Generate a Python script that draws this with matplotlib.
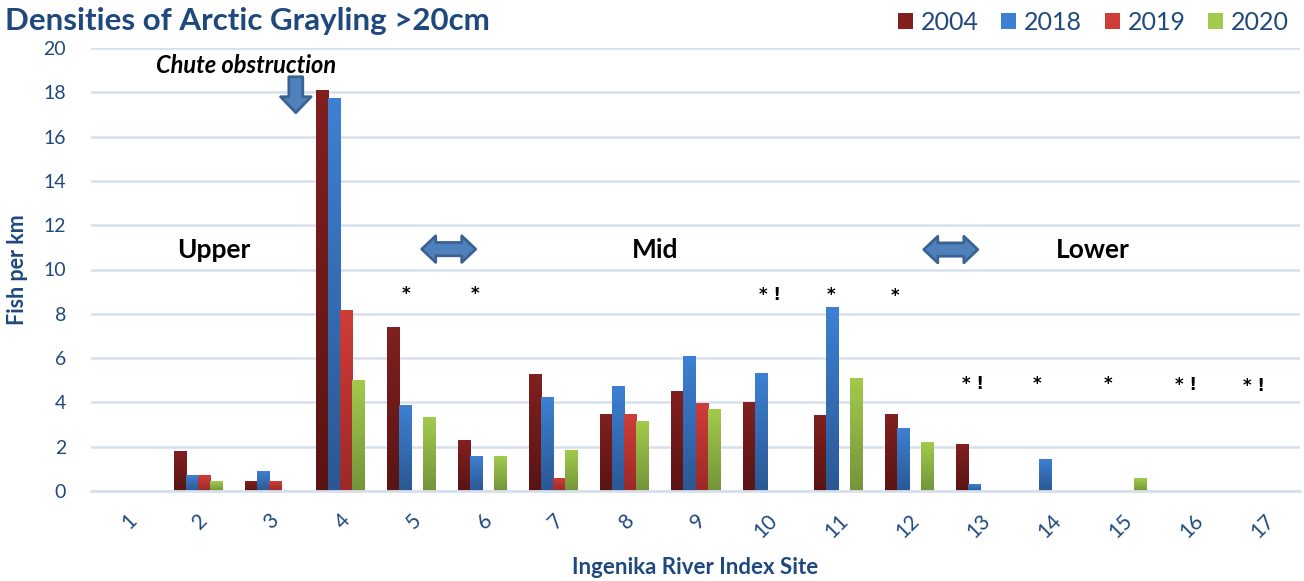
import matplotlib
matplotlib.use("Agg")
import matplotlib.pyplot as plt
import numpy as np
from matplotlib.patches import Polygon, Patch
from matplotlib.colors import LinearSegmentedColormap

plt.rcParams['font.family'] = ['Lato', 'DejaVu Sans']

# fish density per site (fish per km), 0 = not sampled / none caught
sites = [str(i) for i in range(1, 18)]
years = ['2004', '2018', '2019', '2020']
d2004 = [0, 1.8, 0.45, 18.1, 7.4, 2.3, 5.25, 3.45, 4.5, 4.0, 3.4, 3.45, 2.1, 0, 0, 0, 0]
d2018 = [0, 0.7, 0.9, 17.7, 3.85, 1.55, 4.2, 4.7, 6.05, 5.3, 8.3, 2.8, 0.3, 1.4, 0, 0, 0]
d2019 = [0, 0.7, 0.45, 8.15, 0, 0, 0.55, 3.45, 3.95, 0, 0, 0, 0, 0, 0, 0, 0]
d2020 = [0, 0.45, 0, 5.0, 3.3, 1.55, 1.85, 3.15, 3.7, 0, 5.1, 2.2, 0, 0, 0.55, 0, 0]

# site notes drawn above the bars
note_x = [4.93, 5.9, 10.05, 10.9, 11.8, 12.9, 13.8, 14.8, 15.9, 16.85]
note_text = ['*', '*', '* !', '*', '*', '* !', '*', '*', '* !', '* !']
note_y = [8.9, 8.9, 8.85, 8.85, 8.8, 4.85, 4.85, 4.85, 4.8, 4.75]

# reach labels
reaches = ['Upper', 'Mid', 'Lower']
reach_x = [2.22, 8.43, 14.58]
reach_y = 10.9

navy = '#1F497D'
grid_col = '#D6E0ED'
# (top, bottom) gradient colours per year
shades = {
    '2004': ('#80201F', '#5A1414'),
    '2018': ('#3D80D2', '#2B5894'),
    '2019': ('#CF3D39', '#9C2927'),
    '2020': ('#A2CA4C', '#74943A'),
}

fig = plt.figure(figsize=(13.04, 5.81), dpi=100)
ax = fig.add_axes([91 / 1304, 90 / 581, 1209 / 1304, 443 / 581])

x = np.arange(1, 18)
w = 0.169
series = [d2004, d2018, d2019, d2020]
for k, (yr, vals) in enumerate(zip(years, series)):
    top, bot = shades[yr]
    cmap = LinearSegmentedColormap.from_list(yr, [bot, top])
    bars = ax.bar(x + (k - 1.5) * w, vals, width=w, color=top, zorder=2)
    grad = np.linspace(0, 1, 64).reshape(-1, 1)
    for r in bars:
        h = r.get_height()
        if h <= 0:
            continue
        r.set_facecolor('none')
        x0 = r.get_x()
        ax.imshow(grad, extent=[x0, x0 + r.get_width(), 0, h], origin='lower',
                  cmap=cmap, aspect='auto', zorder=2, interpolation='bilinear')

ax.set_xlim(0.5, 17.5)
ax.set_ylim(0, 20)
ax.set_yticks(np.arange(0, 21, 2))
ax.set_xticks(x)
ax.set_xticklabels(sites, rotation=45, ha='right', va='top', rotation_mode='anchor')
ax.yaxis.grid(True, color=grid_col, linewidth=1.8, zorder=0)
ax.set_axisbelow(True)
for s in ['top', 'right', 'left']:
    ax.spines[s].set_visible(False)
ax.spines['bottom'].set_color(grid_col)
ax.spines['bottom'].set_linewidth(2)
ax.tick_params(axis='both', length=0, colors=navy, labelsize=14)
ax.tick_params(axis='x', labelsize=15, pad=14)
ax.tick_params(axis='y', pad=18)

ax.set_ylabel('Fish per km', fontsize=15.5, fontweight='bold', color=navy, va='center')
ax.yaxis.set_label_coords(-0.0604, 0.5)
ax.set_xlabel('Ingenika River Index Site', fontsize=16, fontweight='bold', color=navy, va='center')
ax.xaxis.set_label_coords(0.5, -0.172)

fig.text(5 / 1304, 1 - 21 / 581, 'Densities of Arctic Grayling >20cm', fontsize=22.5,
         fontweight='bold', color=navy, ha='left', va='center')

handles = [Patch(facecolor=shades[y][0], edgecolor='none') for y in years]
leg = fig.legend(handles, years, loc='center right', bbox_to_anchor=(1.0, 1 - 22 / 581),
                 ncol=4, frameon=False, fontsize=18, handlelength=0.6, handleheight=0.6,
                 handletextpad=0.32, columnspacing=0.9, labelcolor=navy, borderaxespad=0.2)

# annotations
for nx, t, yv in zip(note_x, note_text, note_y):
    ax.text(nx, yv, t, ha='center', va='center', fontsize=12, fontweight='bold',
            color='black', family='DejaVu Sans')
for name, rx in zip(reaches, reach_x):
    ax.text(rx, reach_y, name, ha='center', va='center', fontsize=19, fontweight='bold', color='black')
ax.text(2.68, 19.2, 'Chute obstruction', ha='center', va='center', fontsize=17,
        fontweight='bold', fontstyle='italic', color='black')


def block_darrow(x0, x1, yc, head=0.197, hh=0.60, sh=0.30):
    pts = [(x0, yc), (x0 + head, yc + hh), (x0 + head, yc + sh), (x1 - head, yc + sh),
           (x1 - head, yc + hh), (x1, yc), (x1 - head, yc - hh), (x1 - head, yc - sh),
           (x0 + head, yc - sh), (x0 + head, yc - hh)]
    ax.add_patch(Polygon(pts, closed=True, facecolor='#4F81BD', edgecolor='#3A6393',
                         linewidth=2, zorder=4, joinstyle='round'))


def block_down(xc, ytop, yneck, ytip, sw=0.098, hw=0.215):
    pts = [(xc - sw, ytop), (xc + sw, ytop), (xc + sw, yneck), (xc + hw, yneck),
           (xc, ytip), (xc - hw, yneck), (xc - sw, yneck)]
    ax.add_patch(Polygon(pts, closed=True, facecolor='#4F81BD', edgecolor='#3A6393',
                         linewidth=2, zorder=4, joinstyle='round'))


block_darrow(5.15, 5.91, 10.92)
block_darrow(12.21, 12.97, 10.9)
block_down(3.38, 18.7, 17.8, 17.08)

fig.savefig('out.png', dpi=100)
